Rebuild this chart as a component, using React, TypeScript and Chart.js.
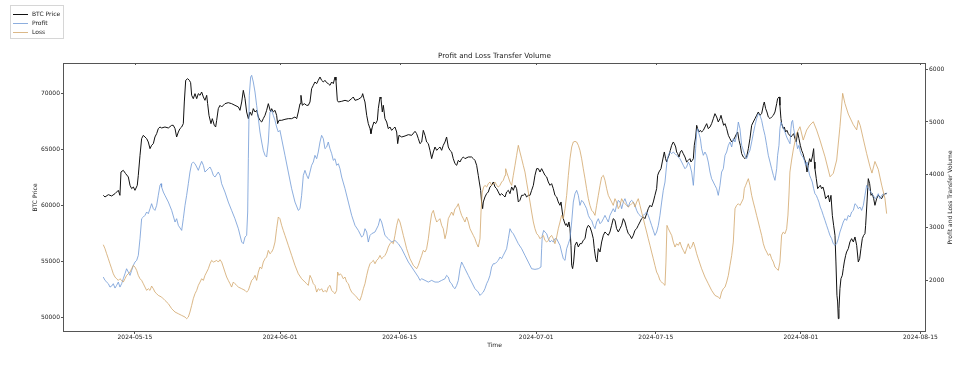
import React, { useEffect, useRef } from 'react';
import { Chart, registerables } from 'chart.js';

Chart.register(...registerables);

// x values are days since 2024-05-01 (fractional)
const xTickDays = [14, 31, 45, 61, 75, 92, 106];
const xTickLabels = ['2024-05-15', '2024-06-01', '2024-06-15', '2024-07-01', '2024-07-15', '2024-08-01', '2024-08-15'];
const priceTicks = [50000, 55000, 60000, 65000, 70000];
const volumeTicks = [2000, 3000, 4000, 5000, 6000];

const chartTitle = 'Profit and Loss Transfer Volume';
const xAxisTitle = 'Time';
const leftAxisTitle = 'BTC Price';
const rightAxisTitle = 'Profit and Loss Transfer Volume';
const seriesNames = ['BTC Price', 'Profit', 'Loss'];

const btcPrice: [number, number][] = [
  [10.29,60891],[10.49,60742],[10.88,60951],[11.27,60832],[11.66,61040],[12.05,61337],[12.24,60891],[12.36,62974],[12.63,63123],[12.91,62825],[13.22,62528],[13.42,61784],[13.61,61486],[13.81,61635],[14.00,61337],[14.27,61784],[14.39,62677],[14.59,64462],[14.78,65950],[14.98,66248],[15.17,66099],[15.37,65950],[15.56,65653],[15.76,65057],[15.95,65355],[16.15,65504],[16.34,66099],[16.54,66397],[16.73,66843],[16.93,66992],[17.12,66903],[17.51,66992],[17.91,66903],[18.30,67141],[18.49,67141],[18.69,66843],[18.88,66099],[19.08,66546],[19.27,66843],[19.47,66992],[19.66,67290],[19.78,69224],[19.94,71158],[20.17,71307],[20.37,71158],[20.52,70950],[20.64,69819],[20.83,69521],[21.03,69968],[21.23,69521],[21.42,69968],[21.62,69819],[21.81,70117],[22.01,69670],[22.20,69373],[22.40,69819],[22.51,69075],[22.67,68033],[22.90,67290],[23.06,67736],[23.29,67141],[23.45,66992],[23.57,67587],[23.76,68629],[23.96,68926],[24.15,68777],[24.54,69075],[24.93,69164],[25.32,69075],[25.71,68926],[26.11,68777],[26.30,68480],[26.50,69224],[26.69,70265],[26.89,69521],[27.08,68331],[27.28,67736],[27.47,68331],[27.67,68033],[27.86,68629],[28.06,68331],[28.25,68480],[28.45,67885],[28.64,67587],[28.84,67438],[29.03,67736],[29.23,68033],[29.42,68480],[29.62,69075],
  [29.89,68331],[30.01,68629],[30.20,68331],[30.40,68480],[30.59,68033],[30.71,67290],[30.87,67587],[31.18,67587],[31.57,67676],[31.96,67736],[32.35,67736],[32.74,67885],[32.94,67736],[33.13,68331],[33.33,69075],[33.44,69819],[33.60,68926],[33.83,69075],[34.11,68926],[34.30,68926],[34.50,69224],[34.69,70414],[34.89,70712],[35.08,71009],[35.28,70861],[35.47,71158],[35.67,71456],[35.86,71158],[36.06,71009],[36.25,71158],[36.45,70950],[36.64,70861],[36.84,70712],[37.04,71009],[37.23,70861],[37.43,71456],[37.54,71158],[37.70,69373],[37.82,69224],[38.21,69283],[38.60,69373],[38.99,69283],[39.38,69521],[39.57,69670],[39.77,69373],[40.16,69462],[40.55,69670],[40.67,69968],[40.82,69521],[40.94,69224],[41.14,68033],[41.33,67290],[41.53,66843],[41.64,66397],[41.80,66992],[41.99,67438],[42.19,67290],[42.39,67587],[42.50,68629],[42.70,69670],[42.81,69521],[42.97,68331],[43.09,68926],[43.28,67736],[43.48,67438],[43.67,66843],[43.87,66992],[44.06,66694],[44.26,66843],[44.45,66992],[44.65,66546],[44.77,65504],[44.92,66248],[45.24,66099],[45.63,66188],[46.02,66307],[46.41,66248],[46.80,66605],[46.99,66397],[47.19,65950],[47.38,65504],[47.58,65653],[47.77,66694],[47.97,66248],[48.16,65653],[48.36,65504],[48.55,64909],[48.75,64165],[48.95,64760],[49.14,65206],[49.34,64909],
  [49.53,65057],[49.72,65206],[49.92,64909],[50.11,65355],[50.31,65653],[50.50,66099],[50.70,65206],[50.89,64909],[51.09,64760],[51.28,64165],[51.48,63718],[51.68,63569],[51.87,64016],[52.07,63867],[52.26,64165],[52.46,64313],[52.65,64165],[53.04,64313],[53.43,64313],[53.63,64165],[53.82,64016],[54.02,63569],[54.21,62677],[54.33,62081],[54.49,61337],[54.60,60296],[54.72,59701],[54.80,60296],[54.99,60742],[55.19,61040],[55.38,61189],[55.58,61635],[55.77,61784],[55.97,62081],[56.17,61635],[56.36,61486],[56.56,61189],[56.75,60891],[56.95,61040],[57.14,60891],[57.34,60742],[57.53,61189],[57.73,61337],[57.92,61040],[58.12,61635],[58.31,61337],[58.51,61784],[58.70,61486],[58.90,60296],[59.09,60445],[59.29,60891],[59.48,60891],[59.68,61040],[59.87,60742],[60.07,60891],[60.27,60891],[60.46,61337],[60.66,61784],[60.85,62677],[61.05,63272],[61.24,63272],[61.44,62974],[61.63,63272],[61.83,62974],[62.02,62677],[62.22,62528],[62.41,62081],[62.61,61784],[62.80,61933],[63.00,61486],[63.19,60891],[63.39,60742],[63.58,60296],[63.78,59998],[63.90,60296],[64.05,59403],[64.17,58808],[64.29,58510],[64.44,58213],[64.56,58361],[64.68,58064],[64.83,58510],[64.95,57915],[65.07,56427],[65.15,54641],[65.26,54344],[65.38,54939],[65.54,56427],[65.73,56725],[65.93,56279],[66.12,56576],[66.32,56576],[66.51,56874],[66.71,57023],[66.90,57915],[67.10,58213],[67.29,58064],[67.49,57619],[67.68,57023],[67.80,56130],[67.96,55237],[68.11,54939],[68.27,56130],[68.47,55832],[68.66,56725],[68.86,57320],[69.05,57619],
  [69.24,57469],[69.44,57320],[69.63,57619],[69.83,58213],[70.02,58808],[70.22,58659],[70.41,57915],[70.61,57619],[70.81,57915],[71.00,58213],[71.20,58808],[71.39,58510],[71.59,57915],[71.78,57469],[71.98,57320],[72.17,57022],[72.37,57320],[72.56,57767],[72.76,57915],[72.95,58213],[73.15,58510],[73.34,58808],[73.54,58957],[73.73,58808],[73.93,59254],[74.12,59701],[74.32,59998],[74.51,59849],[74.71,60296],[74.90,60891],[75.10,61486],[75.22,62677],[75.37,62974],[75.61,63272],[75.76,63867],[75.88,64313],[76.00,64760],[76.15,64165],[76.27,63867],[76.39,64165],[76.55,64462],[76.70,64909],[76.86,65355],[77.05,65653],[77.17,65504],[77.33,65206],[77.44,64760],[77.56,64611],[77.72,64313],[77.87,64760],[78.03,64909],[78.22,64611],[78.42,64313],[78.61,63867],[78.81,64016],[79.00,64165],[79.12,63867],[79.28,64016],[79.40,64165],[79.51,65355],[79.67,66099],[79.79,67141],[79.90,66843],[80.06,66546],[80.22,66694],[80.37,66546],[80.57,66694],[80.76,66992],[80.96,67290],[81.15,66843],[81.35,66992],[81.54,67290],[81.74,67736],[81.93,68182],[82.13,67885],[82.32,67438],[82.52,67736],[82.64,68033],[82.79,67587],[82.95,67141],[83.11,67290],[83.30,66843],[83.50,66248],[83.69,65950],[83.89,65653],[84.08,65802],[84.28,66099],[84.47,66397],[84.59,66546],[84.75,65802],[84.90,65355],[85.06,64611],[85.25,64313],[85.45,64165],[85.64,64313],[85.84,65057],[86.03,65950],[86.23,67141],[86.42,67438],[86.62,67736],[86.81,68033],[87.01,68331],[87.20,68033],[87.40,68182],[87.60,68926],[87.71,69224],[87.87,68629],[88.02,68331],[88.18,67885],[88.38,67736],[88.57,67885],[88.77,68033],[88.96,68331],[89.16,69075],[89.27,69521],[89.43,69670],
  [89.47,69670],[89.54,68926],[89.66,67736],[89.74,67290],[89.94,66843],[90.05,66992],[90.21,66546],[90.36,66694],[90.52,66397],[90.68,66248],[90.83,66099],[90.99,66248],[91.15,66397],[91.30,65950],[91.46,65653],[91.61,66546],[91.77,65950],[91.93,65355],[92.08,64909],[92.24,64611],[92.40,64165],[92.55,63867],[92.71,62974],[92.86,63570],[93.02,64165],[93.18,63867],[93.33,64313],[93.49,65057],[93.57,63867],[93.64,63272],[93.80,62379],[93.96,61486],[94.11,61635],[94.27,61784],[94.43,61486],[94.58,61635],[94.74,61189],[94.89,60593],[95.05,60742],[95.21,60891],[95.36,60296],[95.52,60891],[95.68,59106],[95.83,58213],[95.99,57320],[96.10,54939],[96.22,51963],[96.30,51368],[96.38,49880],[96.46,50773],[96.57,52559],[96.69,53451],[96.85,53749],[96.96,54344],[97.08,54939],[97.24,55534],[97.35,55832],[97.55,56130],[97.74,56725],[97.94,57022],[98.14,56725],[98.33,57171],[98.53,56427],[98.72,54939],[98.88,55237],[99.03,56130],[99.19,57022],[99.35,57320],[99.50,57469],[99.58,58213],[99.74,60296],[99.89,62379],[100.05,61933],[100.21,60891],[100.36,61040],[100.52,60593],[100.67,59998],[100.87,60593],[101.06,60891],[101.26,60742],[101.45,60593],[101.65,60891],[101.84,61040],[102.04,61040],
];

const profitVolume: [number, number][] = [
  [10.29,2056],[10.49,1993],[10.88,1930],[11.07,1866],[11.27,1885],[11.46,1930],[11.66,1847],[11.85,1898],[12.05,1961],[12.24,1866],[12.44,1930],[12.63,2024],[12.83,2119],[13.02,2214],[13.22,2151],[13.42,2088],[13.61,2183],[13.81,2278],[14.00,2341],[14.20,2373],[14.39,2467],[14.59,2784],[14.78,3164],[14.98,3196],[15.17,3227],[15.37,3291],[15.56,3259],[15.76,3354],[15.95,3449],[16.15,3354],[16.34,3322],[16.54,3417],[16.73,3607],[16.93,3797],[17.05,3829],[17.12,3765],[17.32,3670],[17.51,3607],[17.91,3480],[18.30,3322],[18.69,3101],[18.88,3164],[19.08,3037],[19.47,2942],[19.66,3164],[19.86,3417],[20.05,3607],[20.25,3829],[20.44,4050],[20.64,4208],[20.83,4240],[21.03,4208],[21.23,4145],[21.42,4082],[21.62,4177],[21.81,4253],[22.01,4177],[22.20,4050],[22.59,4113],[22.79,4145],[22.98,4082],[23.18,3987],[23.37,3955],[23.76,4050],[23.96,3987],[24.15,3829],[24.54,3670],[24.93,3480],[25.32,3322],[25.71,3164],[26.11,2974],[26.50,2721],[26.69,2689],[26.89,2816],[27.08,2847],[27.20,3291],[27.28,4303],[27.39,5506],[27.55,5854],[27.67,5886],[27.86,5759],[28.06,5569],[28.25,5316],[28.45,5063],[28.64,4810],[28.84,4620],[29.03,4461],[29.23,4367],
  [29.42,4335],[29.62,4620],[29.81,5189],[30.01,5221],[30.20,5126],[30.40,5031],[30.59,4905],[30.79,4810],[30.98,4841],[31.57,4367],[31.96,4050],[32.35,3734],[32.74,3480],[33.13,3322],[33.33,3354],[33.52,3607],[33.72,3987],[33.91,4082],[34.11,3987],[34.30,3924],[34.50,4050],[34.69,4177],[34.89,4240],[35.08,4367],[35.28,4303],[35.47,4430],[35.67,4620],[35.86,4746],[36.06,4683],[36.25,4493],[36.45,4525],[36.64,4620],[36.84,4493],[37.04,4398],[37.23,4272],[37.43,4303],[37.62,4177],[37.82,4208],[38.01,4113],[38.21,3955],[38.60,3734],[38.99,3480],[39.38,3227],[39.77,3037],[40.16,2942],[40.55,2816],[40.75,2847],[40.94,2974],[41.14,2911],[41.33,2721],[41.53,2847],[41.72,2879],[42.11,2911],[42.50,3037],[42.70,3164],[42.89,3101],[43.09,2974],[43.28,2847],[43.67,2784],[44.06,2721],[44.45,2752],[44.85,2689],[45.24,2594],[45.63,2467],[46.02,2341],[46.41,2246],[46.80,2151],[47.19,2056],[47.38,1993],[47.58,2024],[47.97,1993],[48.36,1961],[48.75,1993],[49.14,1961],
  [49.53,1961],[49.92,1993],[50.31,2024],[50.50,2088],[50.70,2056],[50.89,1961],[51.09,1930],[51.28,1866],[51.48,1835],[51.68,1898],[51.87,1993],[52.07,2214],[52.26,2341],[52.46,2278],[52.65,2214],[53.04,2088],[53.43,1961],[53.82,1835],[54.21,1771],[54.41,1708],[54.60,1740],[54.80,1771],[54.99,1835],[55.19,1930],[55.38,1993],[55.58,2088],[55.77,2246],[55.97,2309],[56.17,2309],[56.36,2341],[56.56,2373],[56.75,2436],[56.95,2404],[57.14,2467],[57.34,2531],[57.53,2594],[57.73,2784],[57.92,2974],[58.12,2911],[58.31,2879],[58.51,2816],[58.90,2689],[59.29,2594],[59.68,2467],[60.07,2341],[60.46,2214],[60.85,2202],[61.24,2214],[61.55,2246],[61.63,2594],[61.71,2847],[61.87,2942],[62.02,2911],[62.22,2879],[62.41,2784],[62.61,2721],[62.80,2752],[63.00,2721],[63.19,2784],[63.39,2784],[63.58,2721],[63.78,2658],[63.97,2531],[64.17,2404],[64.37,2373],[64.56,2594],[64.76,2689],[64.95,2784],[65.15,3101],[65.34,3480],[65.54,3639],[65.73,3702],[65.93,3607],[66.12,3417],[66.32,3512],[66.51,3480],[66.71,3417],[66.90,3354],[67.10,3227],[67.29,3164],[67.49,3132],[67.68,3037],[67.88,2974],[68.07,3101],[68.27,3164],[68.47,3069],[68.66,3101],[68.86,3164],[69.05,3227],
  [69.24,3164],[69.44,3101],[69.63,3227],[69.83,3291],[70.02,3354],[70.22,3291],[70.41,3417],[70.61,3512],[70.81,3480],[71.00,3354],[71.20,3480],[71.39,3544],[71.59,3449],[71.78,3385],[71.98,3480],[72.17,3512],[72.37,3480],[72.56,3417],[72.76,3322],[72.95,3259],[73.15,3227],[73.34,3196],[73.54,3227],[73.73,3259],[73.93,3291],[74.12,3227],[74.32,3132],[74.51,3037],[74.71,2942],[74.90,2847],[75.10,2911],[75.30,3037],[75.49,3227],[75.69,3480],[75.88,3702],[76.08,3860],[76.19,4050],[76.31,4240],[76.47,4367],[76.66,4430],[76.86,4398],[77.05,4430],[77.25,4398],[77.44,4367],[77.64,4335],[77.83,4303],[78.03,4240],[78.22,4177],[78.42,4113],[78.61,4145],[78.81,4240],[79.00,4177],[79.20,4050],[79.40,3797],[79.51,4050],[79.67,4493],[79.79,4810],[79.90,4873],[80.06,4778],[80.22,4683],[80.37,4493],[80.57,4367],[80.76,4430],[80.96,4367],[81.15,4240],[81.35,4050],[81.54,3924],[81.74,3860],[81.93,3797],[82.13,3734],[82.32,3607],[82.52,3797],[82.71,4050],[82.91,4113],[83.11,4367],[83.30,4430],[83.50,4557],[83.69,4620],[83.89,4525],[84.08,4683],[84.28,4620],[84.47,4746],[84.67,4999],[84.86,4873],[85.06,4557],[85.25,4461],[85.45,4367],[85.64,4303],[85.84,4398],[86.03,4461],[86.23,4620],[86.42,4778],[86.62,4936],[86.81,5063],[87.01,5158],[87.20,5126],[87.40,5031],[87.60,4873],[87.79,4746],[87.99,4557],[88.18,4367],[88.38,4240],[88.57,4113],[88.77,3987],[88.96,3892],[89.16,4113],[89.27,4367],[89.43,4557],
  [89.54,4873],[89.66,4999],[89.82,4936],[89.97,4873],[90.13,4810],[90.33,4715],[90.52,4651],[90.72,4588],[90.83,4873],[90.91,4999],[91.03,5031],[91.15,4873],[91.30,4746],[91.46,4620],[91.61,4493],[91.77,4557],[91.93,4430],[92.08,4367],[92.24,4335],[92.40,4272],[92.55,4177],[92.71,4240],[92.86,4113],[93.02,3987],[93.18,3924],[93.33,3860],[93.49,3734],[93.64,3639],[93.80,3607],[93.96,3544],[94.11,3480],[94.27,3385],[94.43,3322],[94.62,3227],[94.82,3132],[95.01,3037],[95.21,2942],[95.40,2847],[95.60,2784],[95.79,2689],[95.99,2658],[96.18,2689],[96.38,2784],[96.57,2911],[96.77,3006],[96.96,3101],[97.16,3164],[97.35,3132],[97.55,3227],[97.74,3196],[97.94,3291],[98.14,3322],[98.33,3449],[98.53,3417],[98.72,3354],[98.92,3385],[99.11,3322],[99.31,3417],[99.50,3607],[99.70,3797],[99.89,3734],[100.09,3702],[100.28,3639],[100.48,3607],[100.67,3544],[100.87,3575],[101.06,3639],[101.26,3544],[101.45,3607],[101.65,3639],[101.84,3620],[102.04,3658],
];

const lossVolume: [number, number][] = [
  [10.29,2670],[10.49,2594],[10.68,2499],[10.88,2404],[11.07,2309],[11.27,2214],[11.46,2119],[11.66,2056],[11.85,2024],[12.05,1993],[12.24,2024],[12.44,1993],[12.63,1961],[12.83,2024],[13.02,2088],[13.22,2119],[13.42,2151],[13.61,2214],[13.81,2278],[14.00,2246],[14.20,2183],[14.39,2088],[14.59,2024],[14.78,1993],[14.98,1930],[15.17,1866],[15.37,1803],[15.56,1835],[15.76,1803],[15.95,1885],[16.15,1835],[16.34,1771],[16.54,1740],[16.73,1708],[17.12,1676],[17.51,1613],[17.91,1550],[18.30,1455],[18.69,1392],[19.08,1360],[19.47,1328],[19.86,1297],[20.05,1265],[20.25,1297],[20.44,1392],[20.64,1518],[20.83,1645],[21.03,1740],[21.23,1803],[21.42,1898],[21.62,1961],[21.81,2024],[22.01,1993],[22.20,2088],[22.40,2151],[22.59,2214],[22.79,2309],[22.98,2373],[23.18,2341],[23.37,2354],[23.57,2373],[23.76,2341],[23.96,2385],[24.15,2341],[24.35,2246],[24.54,2151],[24.74,2056],[24.93,1993],[25.13,1930],[25.32,1866],[25.52,1961],[25.71,1930],[25.91,1898],[26.11,1866],[26.50,1835],[26.89,1803],[27.08,1771],[27.28,1803],[27.47,1898],[27.67,1993],[27.86,2024],[28.06,2088],[28.25,1993],[28.45,2151],[28.64,2246],[28.84,2214],[29.03,2341],[29.23,2404],[29.42,2436],[29.62,2563],
  [29.81,2499],[30.01,2531],[30.20,2594],[30.40,2721],[30.59,2974],[30.79,3196],[30.98,3164],[31.18,3037],[31.37,2942],[31.57,2847],[31.96,2658],[32.35,2467],[32.74,2278],[33.13,2119],[33.52,2024],[33.91,1961],[34.11,1930],[34.30,1898],[34.50,2088],[34.69,2024],[34.89,1930],[35.08,1898],[35.28,1771],[35.47,1835],[35.67,1803],[35.86,1835],[36.06,1771],[36.25,1803],[36.45,1771],[36.64,1866],[36.84,1898],[37.04,1803],[37.23,1771],[37.43,1740],[37.62,1803],[37.74,2151],[37.89,2088],[38.05,2119],[38.21,2088],[38.40,2024],[38.60,2056],[38.79,1961],[38.99,1930],[39.18,1835],[39.38,1771],[39.77,1708],[39.96,1676],[40.16,1632],[40.35,1613],[40.55,1708],[40.75,1835],[40.94,1930],[41.14,2088],[41.33,2214],[41.53,2309],[41.72,2341],[41.92,2373],[42.11,2309],[42.31,2373],[42.50,2404],[42.70,2467],[42.89,2404],[43.09,2436],[43.28,2467],[43.48,2531],[43.67,2626],[43.87,2689],[44.06,2721],[44.26,2689],[44.45,2847],[44.65,3037],[44.85,3164],[45.04,3101],[45.24,2974],[45.43,2847],[45.63,2721],[45.82,2594],[46.02,2499],[46.21,2404],[46.41,2341],[46.60,2278],[46.80,2246],[46.99,2214],[47.19,2278],[47.38,2373],[47.58,2467],[47.77,2563],[47.97,2531],[48.16,2594],[48.36,2784],[48.55,3037],[48.75,3259],[48.95,3322],[49.14,3196],[49.34,3101],
  [49.53,3132],[49.72,3164],[49.92,3037],[50.11,2974],[50.31,2784],[50.50,2911],[50.70,3164],[50.89,3227],[51.09,3291],[51.28,3227],[51.48,3354],[51.68,3385],[51.87,3449],[52.07,3322],[52.26,3227],[52.46,3164],[52.65,3101],[52.85,3196],[53.04,3101],[53.24,2974],[53.43,2911],[53.63,2847],[53.82,2784],[54.02,2689],[54.21,2626],[54.41,2784],[54.53,3291],[54.68,3670],[54.84,3765],[54.99,3797],[55.19,3765],[55.38,3829],[55.58,3860],[55.77,3797],[55.97,3829],[56.17,3860],[56.36,3797],[56.56,3765],[56.75,3797],[56.95,3860],[57.14,3892],[57.34,3987],[57.42,4113],[57.53,4050],[57.73,3955],[57.92,3860],[58.12,3797],[58.31,3987],[58.51,4177],[58.70,4367],[58.90,4557],[59.09,4430],[59.29,4303],[59.48,4177],[59.68,4050],[59.87,3860],[60.07,3670],[60.27,3480],[60.46,3291],[60.66,3101],[60.85,2974],[61.05,2879],[61.24,2847],[61.44,2784],[61.63,2816],[61.83,2847],[62.02,2752],[62.22,2721],[62.41,2752],[62.61,2816],[62.80,2847],[63.00,2784],[63.19,2689],[63.39,2816],[63.58,2974],[63.78,3101],[63.97,3227],[64.17,3164],[64.37,3354],[64.56,3607],[64.76,3987],[64.95,4303],[65.15,4525],[65.34,4620],[65.54,4632],[65.73,4620],[65.93,4557],[66.12,4461],[66.32,4303],[66.51,4113],[66.71,3924],[66.90,3734],[67.10,3544],[67.29,3417],[67.49,3322],[67.68,3291],[67.88,3227],[68.07,3417],[68.27,3607],[68.47,3797],[68.66,3955],[68.86,3987],[69.05,3892],[69.25,3734],[69.44,3607],
  [69.83,3480],[70.02,3417],[70.22,3544],[70.41,3480],[70.61,3354],[70.81,3417],[71.00,3544],[71.20,3480],[71.39,3449],[71.59,3417],[71.78,3385],[71.98,3417],[72.17,3449],[72.37,3480],[72.56,3385],[72.76,3480],[72.95,3544],[73.15,3417],[73.34,3291],[73.54,3164],[73.73,3037],[73.93,2911],[74.12,2784],[74.32,2658],[74.51,2531],[74.71,2404],[74.90,2278],[75.10,2151],[75.30,2088],[75.49,1993],[75.69,1961],[75.88,1930],[76.08,1898],[76.19,2341],[76.31,3037],[76.47,2974],[76.66,2911],[76.86,2847],[77.05,2721],[77.25,2626],[77.44,2689],[77.64,2658],[77.83,2721],[78.03,2626],[78.22,2563],[78.42,2499],[78.61,2594],[78.81,2689],[79.00,2594],[79.20,2626],[79.40,2721],[79.59,2626],[79.79,2499],[79.98,2404],[80.37,2214],[80.76,2056],[81.15,1930],[81.54,1803],[81.93,1708],[82.32,1676],[82.52,1645],[82.71,1771],[82.91,1835],[83.11,1866],[83.30,1961],[83.50,2088],[83.69,2278],[83.89,2467],[84.08,2721],[84.20,3101],[84.28,3354],[84.47,3417],[84.67,3449],[84.86,3417],[85.06,3480],[85.25,3544],[85.37,3734],[85.53,3797],[85.68,3860],[85.84,3924],[86.03,3797],[86.23,3607],[86.42,3480],[86.62,3354],[86.81,3227],[87.01,3101],[87.20,2974],[87.40,2847],[87.60,2689],[87.79,2594],[87.99,2531],[88.18,2467],[88.38,2499],[88.57,2404],[88.77,2341],[88.96,2246],[89.16,2214],[89.35,2183],
  [89.54,2341],[89.74,2853],[89.93,2910],[90.13,2878],[90.33,2973],[90.48,3233],[90.60,3613],[90.71,4050],[90.91,4278],[91.10,4468],[91.50,4785],[91.89,4910],[92.27,4657],[92.67,4847],[93.06,4942],[93.45,5005],[93.84,4847],[94.23,4657],[94.82,4340],[95.41,3960],[95.79,4025],[96.19,4278],[96.57,4910],[96.89,5544],[97.16,5350],[97.55,5150],[98.13,4950],[98.53,4850],[98.72,5030],[98.95,4930],[99.30,4680],[99.70,4400],[100.09,4150],[100.32,4030],[100.67,4250],[101.06,4100],[101.46,3800],[101.84,3550],[102.04,3260],
];

const seriesColors = ['#111111', '#7099d6', '#d2a66a'];
const seriesWidths = [1, 0.8, 0.8];
const FONT = '"DejaVu Sans", sans-serif';
const TEXT_COLOR = '#222222';
const SPINE_COLOR = '#555555';

const decorPlugin = {
  id: 'decor',
  afterDraw(chart: any) {
    const { ctx, chartArea } = chart;
    const { left, right, top, bottom } = chartArea;
    ctx.save();
    ctx.strokeStyle = SPINE_COLOR;
    ctx.lineWidth = 1;
    ctx.strokeRect(left + 0.5, top + 0.5, right - left - 1, bottom - top - 1);
    const xs = chart.scales.x;
    ctx.beginPath();
    xTickDays.forEach((d) => {
      const px = Math.round(xs.getPixelForValue(d)) + 0.5;
      ctx.moveTo(px, top);
      ctx.lineTo(px, top + 2);
    });
    ctx.stroke();

    ctx.fillStyle = TEXT_COLOR;
    ctx.textAlign = 'center';
    ctx.textBaseline = 'middle';
    ctx.font = `7.2px ${FONT}`;
    ctx.fillText(chartTitle, (left + right) / 2, 56);
    ctx.font = `6px ${FONT}`;
    ctx.fillText(xAxisTitle, (left + right) / 2, 345);
    ctx.save();
    ctx.translate(35, (top + bottom) / 2);
    ctx.rotate(-Math.PI / 2);
    ctx.fillText(leftAxisTitle, 0, 0);
    ctx.restore();
    ctx.save();
    ctx.translate(950, (top + bottom) / 2);
    ctx.rotate(-Math.PI / 2);
    ctx.fillText(rightAxisTitle, 0, 0);
    ctx.restore();

    ctx.fillStyle = '#ffffff';
    ctx.fillRect(10, 5, 53, 33);
    ctx.strokeStyle = '#d6d6d6';
    ctx.lineWidth = 1;
    ctx.strokeRect(10.5, 5.5, 53, 33);
    seriesNames.forEach((name, i) => {
      const y = 14 + i * 9;
      ctx.strokeStyle = seriesColors[i];
      ctx.lineWidth = seriesWidths[i];
      ctx.beginPath();
      ctx.moveTo(13, y + 0.5);
      ctx.lineTo(28, y + 0.5);
      ctx.stroke();
      ctx.fillStyle = TEXT_COLOR;
      ctx.textAlign = 'left';
      ctx.fillText(name, 32, y);
    });
    ctx.restore();
  },
};

export default function App() {
  const canvasRef = useRef<HTMLCanvasElement | null>(null);

  useEffect(() => {
    if (!canvasRef.current) return;
    const toPts = (arr: [number, number][]) => arr.map(([x, y]) => ({ x, y }));
    const tickFont = { family: FONT, size: 6 };
    const chart = new Chart(canvasRef.current, {
      type: 'line',
      data: {
        datasets: [
          { label: seriesNames[0], data: toPts(btcPrice), yAxisID: 'y', borderColor: seriesColors[0], borderWidth: seriesWidths[0], pointRadius: 0, tension: 0, order: 3 },
          { label: seriesNames[1], data: toPts(profitVolume), yAxisID: 'y1', borderColor: seriesColors[1], borderWidth: seriesWidths[1], pointRadius: 0, tension: 0, order: 2 },
          { label: seriesNames[2], data: toPts(lossVolume), yAxisID: 'y1', borderColor: seriesColors[2], borderWidth: seriesWidths[2], pointRadius: 0, tension: 0, order: 1 },
        ],
      } as any,
      options: {
        animation: false,
        responsive: true,
        maintainAspectRatio: false,
        devicePixelRatio: 1,
        events: [],
        layout: { padding: { top: 63, left: 0, right: 0, bottom: 0 } },
        plugins: { legend: { display: false }, title: { display: false }, tooltip: { enabled: false } },
        scales: {
          x: {
            type: 'linear',
            min: 5.57,
            max: 106.65,
            afterBuildTicks: (s: any) => { s.ticks = xTickDays.map((v) => ({ value: v })); },
            afterFit: (s: any) => { s.height = 35; },
            ticks: {
              autoSkip: false, maxRotation: 0, minRotation: 0, padding: 0,
              font: tickFont, color: TEXT_COLOR,
              callback: (_v: any, i: number) => xTickLabels[i],
            },
            grid: { display: true, drawOnChartArea: false, drawTicks: true, tickLength: 2, color: SPINE_COLOR },
            border: { display: false },
          },
          y: {
            type: 'linear',
            position: 'left',
            min: 48687,
            max: 72705,
            afterBuildTicks: (s: any) => { s.ticks = priceTicks.map((v) => ({ value: v })); },
            afterFit: (s: any) => { s.width = 63; },
            ticks: { padding: 1, font: tickFont, color: TEXT_COLOR, callback: (v: any) => String(v) },
            grid: { display: true, drawOnChartArea: false, drawTicks: true, tickLength: 2, color: SPINE_COLOR },
            border: { display: false },
          },
          y1: {
            type: 'linear',
            position: 'right',
            min: 1013,
            max: 6120,
            afterBuildTicks: (s: any) => { s.ticks = volumeTicks.map((v) => ({ value: v })); },
            afterFit: (s: any) => { s.width = 43; },
            ticks: { padding: 1, font: tickFont, color: TEXT_COLOR, callback: (v: any) => String(v) },
            grid: { display: true, drawOnChartArea: false, drawTicks: true, tickLength: 2, color: SPINE_COLOR },
            border: { display: false },
          },
        },
      } as any,
      plugins: [decorPlugin],
    });
    return () => chart.destroy();
  }, []);

  return (
    <div style={{ position: 'fixed', left: 0, top: 0, width: 969, height: 367, background: '#ffffff' }}>
      <canvas ref={canvasRef} />
    </div>
  );
}
